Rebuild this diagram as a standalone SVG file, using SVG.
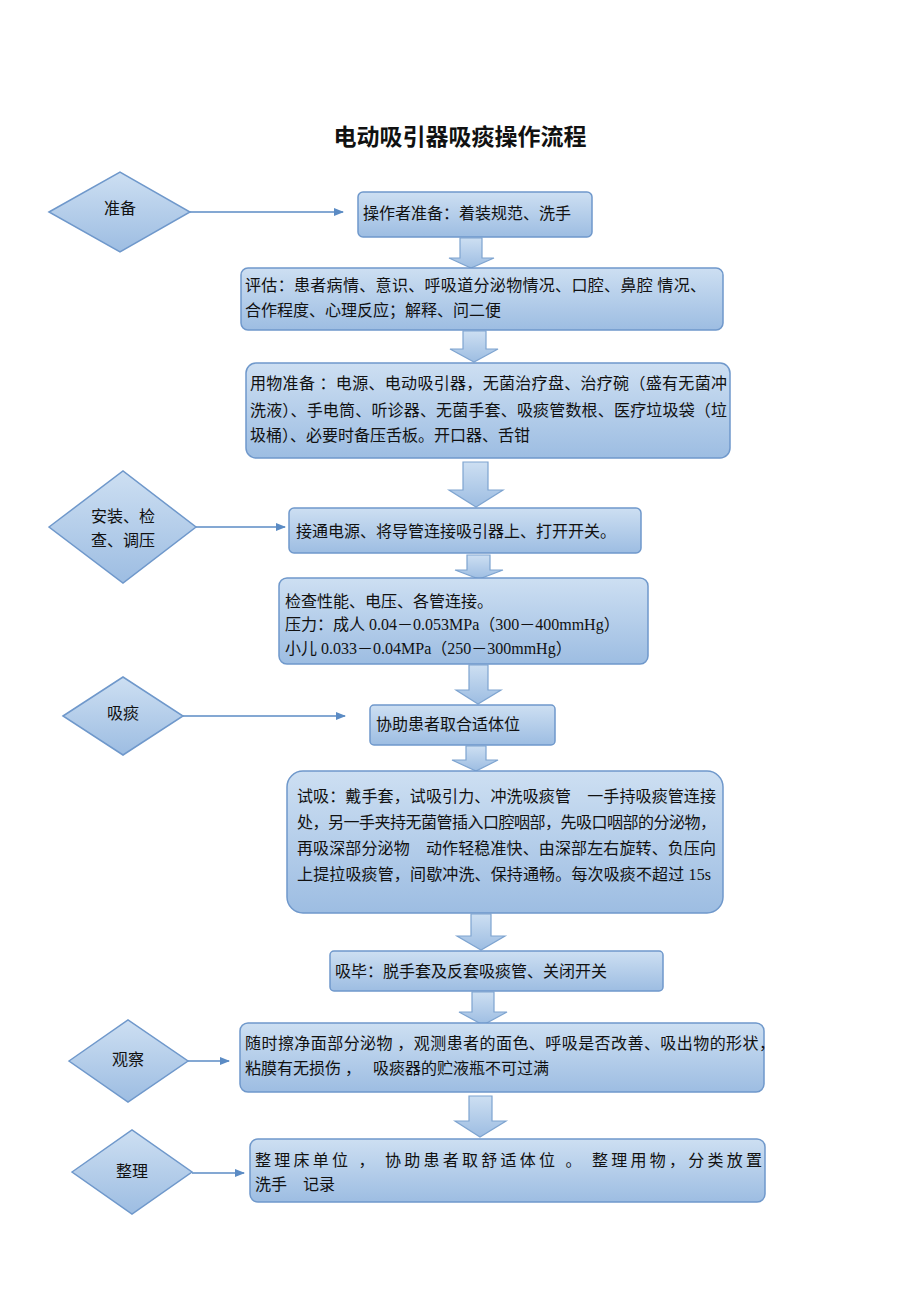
<svg xmlns="http://www.w3.org/2000/svg" width="920" height="1302" viewBox="0 0 920 1302">
<defs>
<linearGradient id="g" x1="0" y1="0" x2="0" y2="1">
<stop offset="0" stop-color="#cddff2"/>
<stop offset="1" stop-color="#9dbde2"/>
</linearGradient>
<marker id="ah" markerWidth="10" markerHeight="8" refX="9" refY="4" orient="auto" markerUnits="userSpaceOnUse">
<path d="M0,0 L10,4 L0,8 Z" fill="#5b8bc4"/>
</marker>
<style>
.box{fill:url(#g);stroke:#6f98cb;stroke-width:1.5}
.dia{fill:url(#g);stroke:#6f98cb;stroke-width:1.5}
.blk{fill:url(#g);stroke:#7ea4d0;stroke-width:1.2}
.ln{stroke:#5b8bc4;stroke-width:1.5;fill:none;marker-end:url(#ah)}
text{font-family:"Liberation Serif","Noto Sans CJK SC",serif;font-size:16px;fill:#111}
.c{text-anchor:middle}
.title{font-size:23px;font-weight:bold}
</style>
</defs>
<rect width="920" height="1302" fill="#fff"/>
<text class="title c" x="460" y="145">电动吸引器吸痰操作流程</text>

<g id="connectors">
<line class="ln" x1="190" y1="212" x2="343" y2="212"/>
<line class="ln" x1="196" y1="527" x2="285" y2="527"/>
<line class="ln" x1="183" y1="716" x2="345" y2="716"/>
<line class="ln" x1="188" y1="1061" x2="229" y2="1061"/>
<line class="ln" x1="192" y1="1173" x2="244" y2="1173"/>
<path class="blk" d="M460,238 H482 V258 H494 L471,268 L449,258 H460 Z"/>
<path class="blk" d="M463,331 H486 V349 H498 L474,362 L450,349 H463 Z"/>
<path class="blk" d="M463,462 H488 V490 H503 L476,507 L449,490 H463 Z"/>
<path class="blk" d="M467,555 H490 V570 H503 L479,579 L455,570 H467 Z"/>
<path class="blk" d="M469,665 H488 V690 H501 L478,704 L456,690 H469 Z"/>
<path class="blk" d="M466,746 H486 V760 H498 L476,771 L452,760 H466 Z"/>
<path class="blk" d="M471,914 H491 V936 H505 L481,950 L457,936 H471 Z"/>
<path class="blk" d="M472,992 H494 V1012 H507 L483,1025 L459,1012 H472 Z"/>
<path class="blk" d="M469,1096 H492 V1121 H506 L480,1137 L455,1121 H469 Z"/>
</g>

<g id="d1"><path class="dia" d="M49,212 L120,172 L190,212 L120,252 Z"/><text class="c" x="120" y="214">准备</text></g>
<g id="d2"><path class="dia" d="M49,527 L123,471 L196,527 L123,583 Z"/><text class="c" x="123" y="522">安装、检</text><text class="c" x="123" y="546">查、调压</text></g>
<g id="d3"><path class="dia" d="M63,716 L123,677 L183,716 L123,755 Z"/><text class="c" x="123" y="719">吸痰</text></g>
<g id="d4"><path class="dia" d="M69,1061 L128,1020 L188,1061 L128,1102 Z"/><text class="c" x="128" y="1065">观察</text></g>
<g id="d5"><path class="dia" d="M72,1172 L132,1130 L192,1172 L132,1214 Z"/><text class="c" x="132" y="1177">整理</text></g>

<g id="b1"><rect class="box" x="358" y="192" width="234" height="45" rx="5"/><text x="363" y="219">操作者准备：着装规范、洗手</text></g>
<g id="b2"><rect class="box" x="241" y="268" width="482" height="62" rx="7"/>
<text x="245" y="291" textLength="461" lengthAdjust="spacing">评估：患者病情、意识、呼吸道分泌物情况、口腔、鼻腔 情况、</text>
<text x="245" y="316">合作程度、心理反应；解释、问二便</text></g>
<g id="b3"><rect class="box" x="246" y="363" width="484" height="95" rx="10"/>
<text x="250" y="389" textLength="477" lengthAdjust="spacing">用物准备 ：电源、电动吸引器，无菌治疗盘、治疗碗（盛有无菌冲</text>
<text x="250" y="416" textLength="477" lengthAdjust="spacing">洗液）、手电筒、听诊器、无菌手套、吸痰管数根、医疗垃圾袋（垃</text>
<text x="250" y="441">圾桶）、必要时备压舌板。开口器、舌钳</text></g>
<g id="b4"><rect class="box" x="289" y="508" width="352" height="45" rx="5"/><text x="296" y="537">接通电源、将导管连接吸引器上、打开开关。</text></g>
<g id="b5"><rect class="box" x="279" y="578" width="369" height="86" rx="8"/>
<text x="285" y="607">检查性能、电压、各管连接。</text>
<text x="285" y="630">压力：成人 0.04－0.053MPa（300－400mmHg）</text>
<text x="285" y="654">小儿 0.033－0.04MPa（250－300mmHg）</text></g>
<g id="b6"><rect class="box" x="370" y="705" width="185" height="40" rx="4"/><text x="376" y="730">协助患者取合适体位</text></g>
<g id="b7"><rect class="box" x="287" y="771" width="436" height="142" rx="16"/>
<text x="297" y="802" textLength="419" lengthAdjust="spacing">试吸：戴手套，试吸引力、冲洗吸痰管　一手持吸痰管连接</text>
<text x="297" y="828" textLength="419" lengthAdjust="spacing">处，另一手夹持无菌管插入口腔咽部，先吸口咽部的分泌物，</text>
<text x="297" y="854" textLength="419" lengthAdjust="spacing">再吸深部分泌物　动作轻稳准快、由深部左右旋转、负压向</text>
<text x="297" y="880" textLength="414" lengthAdjust="spacing">上提拉吸痰管，间歇冲洗、保持通畅。每次吸痰不超过 15s</text></g>
<g id="b8"><rect class="box" x="330" y="951" width="333" height="40" rx="4"/><text x="335" y="977">吸毕：脱手套及反套吸痰管、关闭开关</text></g>
<g id="b9"><rect class="box" x="240" y="1023" width="524" height="69" rx="8"/>
<text x="245" y="1049" textLength="530" lengthAdjust="spacing">随时擦净面部分泌物 ，观测患者的面色、呼吸是否改善、吸出物的形状，</text>
<text x="245" y="1074">粘膜有无损伤 ，　 吸痰器的贮液瓶不可过满</text></g>
<g id="b10"><rect class="box" x="250" y="1139" width="515" height="63" rx="8"/>
<text x="255" y="1166" textLength="507" lengthAdjust="spacing">整理床单位 ， 协助患者取舒适体位 。 整理用物，分类放置</text>
<text x="255" y="1190">洗手　记录</text></g>
</svg>
